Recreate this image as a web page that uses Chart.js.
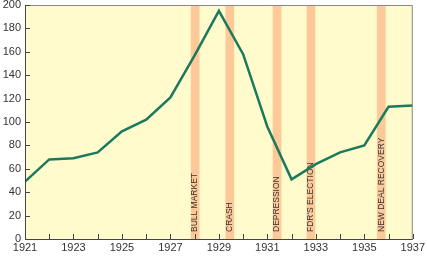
<!DOCTYPE html>
<html>
<head>
<meta charset="utf-8">
<script src="https://cdn.jsdelivr.net/npm/chart.js@4/dist/chart.umd.min.js"></script>
<style>
    html, body { margin: 0; padding: 0; background: #fff; }
    #wrap { width: 427px; height: 257px; }
</style>
</head>
<body>
<div id="wrap"><canvas id="stockChart"></canvas></div>
<script>
// data
const years = [1921, 1922, 1923, 1924, 1925, 1926, 1927, 1928, 1929, 1930, 1931, 1932, 1933, 1934, 1935, 1936, 1937];
const stockIndex = [49, 68, 69, 74, 92, 102, 121, 157, 195, 158, 96, 51, 64, 74, 80, 113, 114];
const eventYears = [1928.02, 1929.45, 1931.4, 1932.8, 1935.7];
const eventLabels = ['BULL MARKET', 'CRASH', 'DEPRESSION', "FDR'S ELECTION", 'NEW DEAL RECOVERY'];
const bandWidth = 0.36; // in years

// background, bands, border, inward ticks
const decorPlugin = {
    id: 'decor',
    beforeDatasetsDraw(chart) {
        const { ctx, chartArea: a, scales } = chart;
        ctx.save();
        ctx.fillStyle = '#fffbcc';
        ctx.fillRect(a.left, a.top, a.right - a.left, a.bottom - a.top);

        ctx.fillStyle = '#fdc998';
        eventYears.forEach(yr => {
            const x0 = scales.x.getPixelForValue(yr - bandWidth / 2);
            const x1 = scales.x.getPixelForValue(yr + bandWidth / 2);
            ctx.fillRect(x0, a.top, x1 - x0, a.bottom - a.top);
        });

        ctx.fillStyle = '#333';
        ctx.font = '8.5px "Liberation Sans", Arial, sans-serif';
        ctx.textAlign = 'left';
        ctx.textBaseline = 'middle';
        eventYears.forEach((yr, i) => {
            const x = scales.x.getPixelForValue(yr);
            ctx.save();
            ctx.translate(x, a.bottom - 7);
            ctx.rotate(-Math.PI / 2);
            ctx.fillText(eventLabels[i], 0, 0);
            ctx.restore();
        });
        ctx.restore();
    },
    afterDatasetsDraw(chart) {
        const { ctx, chartArea: a, scales } = chart;
        ctx.save();
        ctx.strokeStyle = '#888';
        ctx.lineWidth = 1;
        ctx.beginPath();
        ctx.moveTo(a.left, a.top + 0.5);
        ctx.lineTo(a.right - 0.5, a.top + 0.5);
        ctx.lineTo(a.right - 0.5, a.bottom);
        ctx.stroke();

        ctx.strokeStyle = '#444';
        ctx.beginPath();
        ctx.moveTo(a.left + 0.5, a.top);
        ctx.lineTo(a.left + 0.5, a.bottom + 0.5);
        ctx.lineTo(a.right, a.bottom + 0.5);
        scales.x.ticks.forEach(t => {
            const x = Math.round(scales.x.getPixelForValue(t.value)) + 0.5;
            ctx.moveTo(x, a.bottom);
            ctx.lineTo(x, a.bottom - 5);
        });
        scales.y.ticks.forEach(t => {
            const y = Math.round(scales.y.getPixelForValue(t.value)) + 0.5;
            ctx.moveTo(a.left, y);
            ctx.lineTo(a.left + 5, y);
        });
        ctx.stroke();
        ctx.restore();
    }
};

const ctx = document.getElementById('stockChart').getContext('2d');
new Chart(ctx, {
    type: 'line',
    data: {
        datasets: [{
            data: years.map((yr, i) => ({ x: yr, y: stockIndex[i] })),
            borderColor: '#1b7a5e',
            borderWidth: 2.5,
            pointRadius: 0,
            tension: 0,
            fill: false
        }]
    },
    options: {
        responsive: true,
        maintainAspectRatio: false,
        animation: false,
        layout: { padding: { top: 0, right: 13, left: 0, bottom: 0 } },
        plugins: {
            legend: { display: false },
            tooltip: { enabled: false }
        },
        scales: {
            x: {
                type: 'linear',
                min: 1921,
                max: 1937,
                border: { display: false },
                grid: { display: false, drawTicks: false },
                afterFit: scale => { scale.height = 18; },
                ticks: {
                    stepSize: 1,
                    autoSkip: false,
                    maxRotation: 0,
                    padding: 2,
                    color: '#333',
                    font: { size: 11, family: '"Liberation Sans", Arial, sans-serif' },
                    callback: v => ((v - 1921) % 2 === 0 ? String(v) : '')
                }
            },
            y: {
                min: 0,
                max: 200,
                border: { display: false },
                grid: { display: false, drawTicks: false },
                afterFit: scale => {
                    scale.width = 25;
                    scale.paddingTop = 5;
                    scale.paddingBottom = 0;
                },
                ticks: {
                    stepSize: 20,
                    padding: 4,
                    color: '#333',
                    font: { size: 11, family: '"Liberation Sans", Arial, sans-serif' }
                }
            }
        }
    },
    plugins: [decorPlugin]
});
</script>
</body>
</html>
